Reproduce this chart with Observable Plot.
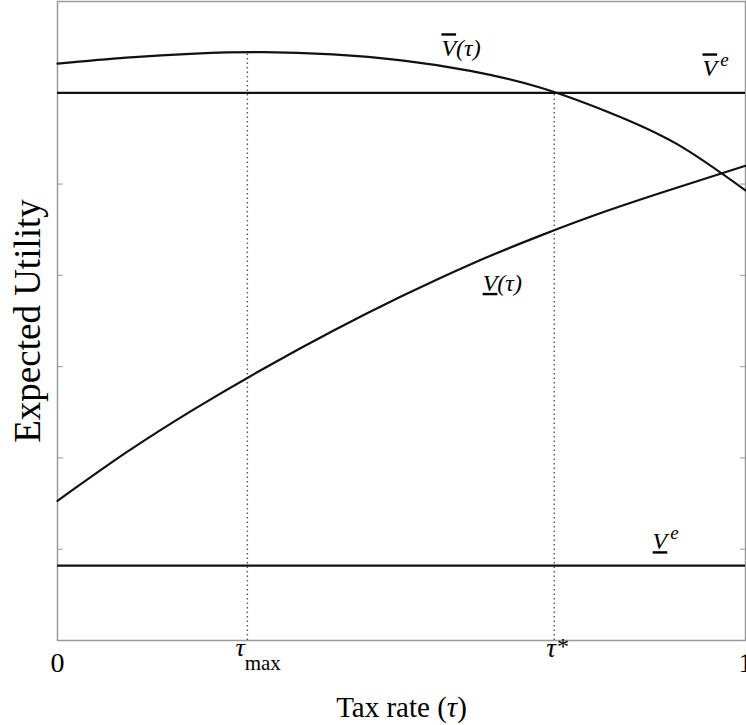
<!DOCTYPE html>
<html><head><meta charset="utf-8">
<script src="https://cdn.jsdelivr.net/npm/d3@7"></script>
<script src="https://cdn.jsdelivr.net/npm/@observablehq/plot@0.6"></script>
<style>body{margin:0;background:#fff;} svg{display:block;}</style>
</head><body><div id="chart"></div>
<script>
// Upper curve V̄(τ)
const tauUpper = [0, 0.1, 0.2, 0.3, 0.4, 0.5, 0.6, 0.7, 0.8, 0.9, 1];
const vUpper   = [6.32, 6.385, 6.43, 6.445, 6.42, 6.355, 6.24, 6.06, 5.79, 5.44, 4.93];
// Lower curve V̲(τ)
const tauLower = [0, 0.1, 0.2, 0.3, 0.4, 0.5, 0.6, 0.7, 0.8, 0.9, 1];
const vLower   = [1.53, 2.06, 2.54, 2.98, 3.39, 3.77, 4.12, 4.43, 4.71, 4.96, 5.20];
// Horizontal levels
const vUpperE = 6.0;
const vLowerE = 0.82;
// Special tax rates
const tauMax = 0.276;
const tauStar = 0.722;
// Ticks
const xTickValues = [0, tauMax, tauStar, 1];
const xTickKeys = ["0", "tmax", "tstar", "1"];
const yTickValues = [1, 2, 3, 4, 5];
// Curve labels
const labelKeys = ["vbar", "vbarE", "vlow", "vlowE"];
const labelTau = [0.558, 0.9375, 0.618, 0.865];
const labelV = [6.40, 6.18, 3.83, 1.00];

const FONT = "'Liberation Serif', 'Times New Roman', serif";

const upper = tauUpper.map((t, i) => ({t, v: vUpper[i]}));
const lower = tauLower.map((t, i) => ({t, v: vLower[i]}));
const ticks = xTickValues.map((t, i) => ({t, k: xTickKeys[i]}));
const labels = labelKeys.map((k, i) => ({k, t: labelTau[i], v: labelV[i]}));

const chart = Plot.plot({
  width: 746,
  height: 725,
  marginLeft: 57,
  marginRight: 1,
  marginTop: 1,
  marginBottom: 85,
  style: {fontFamily: FONT, background: "#fff", color: "#000"},
  x: {domain: [0, 1], axis: null},
  y: {domain: [0, 7]},
  marks: [
    Plot.frame({stroke: "#9a9a9a", strokeWidth: 1.5}),
    Plot.axisY(yTickValues, {anchor: "left", tickSize: -6, tickFormat: () => "", stroke: "#999", label: null}),
    Plot.axisY(yTickValues, {anchor: "right", tickSize: -6, tickFormat: () => "", stroke: "#999", label: null}),
    Plot.ruleX([tauMax], {y1: 0, y2: d3.max(vUpper), stroke: "#555", strokeWidth: 1.4, strokeDasharray: "1.5,3"}),
    Plot.ruleX([tauStar], {y1: 0, y2: vUpperE, stroke: "#555", strokeWidth: 1.4, strokeDasharray: "1.5,3"}),
    Plot.ruleY([vUpperE, vLowerE], {stroke: "#111", strokeWidth: 2.2}),
    Plot.line(upper, {x: "t", y: "v", curve: "natural", stroke: "#111", strokeWidth: 2.2}),
    Plot.line(lower, {x: "t", y: "v", curve: "natural", stroke: "#111", strokeWidth: 2.2}),
    Plot.text(labels, {x: "t", y: "v", text: "k", textAnchor: "start", lineAnchor: "bottom", fontSize: 24, fontStyle: "italic"}),
    Plot.text(ticks, {x: "t", text: "k", frameAnchor: "bottom", dy: 31, fontSize: 28}),
    Plot.text(["Tax rate (τ)"], {frameAnchor: "bottom", dy: 76, fontSize: 29}),
    Plot.text(["Expected Utility"], {frameAnchor: "left", textAnchor: "middle", rotate: -90, dx: -29, fontSize: 37})
  ]
});

const rich = {
  vbar: '<tspan text-decoration="overline">V</tspan>(τ)',
  vbarE: '<tspan text-decoration="overline">V</tspan><tspan dx="3" dy="-10" font-size="19">e</tspan>',
  vlow: '<tspan text-decoration="underline">V</tspan>(τ)',
  vlowE: '<tspan text-decoration="underline">V</tspan><tspan dx="3" dy="-10" font-size="19">e</tspan>',
  "0": "0",
  "1": "1",
  tmax: '<tspan font-style="italic" font-size="26" dx="-12" dy="-16">τ</tspan><tspan font-size="21" dy="14">max</tspan>',
  tstar: '<tspan font-style="italic" font-size="27" dx="-8" dy="-15">τ</tspan><tspan font-size="24" dx="1" dy="-3">*</tspan>'
};
const groups = d3.select(chart).selectAll('g[aria-label="text"]').nodes();
d3.select(groups[0]).selectAll("text").each(function(d, i) {
  this.innerHTML = rich[labels[i].k];
});
d3.select(groups[1]).selectAll("text").each(function(d, i) {
  const k = ticks[i].k;
  this.innerHTML = rich[k];
  if (k === "tmax" || k === "tstar") this.setAttribute("text-anchor", "start");
});
d3.select(groups[2]).selectAll("text").each(function() {
  this.innerHTML = 'Tax rate (<tspan font-style="italic">τ</tspan>)';
});
document.getElementById("chart").appendChild(chart);
</script>
</body></html>
